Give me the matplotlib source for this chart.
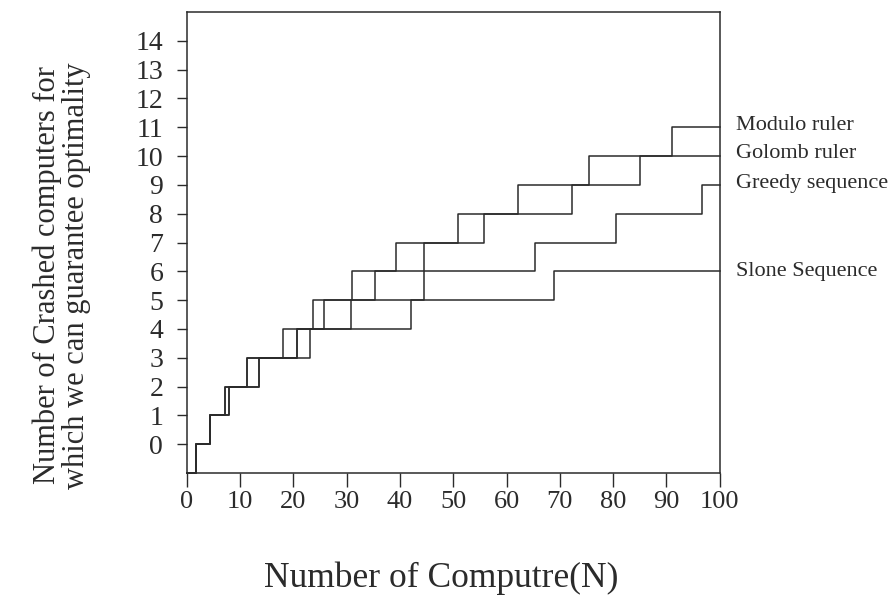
import matplotlib
matplotlib.use("Agg")
import numpy as np
import matplotlib.pyplot as plt

plt.rcParams['font.family'] = ['Liberation Serif', 'DejaVu Serif']

# step data: N where the count changes, and the count from that N on
modulo_x = [0, 1.8, 4.3, 7.1, 11.3, 18.1, 23.7, 31.0, 39.2, 50.9, 62.2, 75.5, 91.0, 100]
modulo_y = [-1, 0, 1, 2, 3, 4, 5, 6, 7, 8, 9, 10, 11, 11]
golomb_x = [0, 1.8, 4.3, 7.1, 11.3, 20.7, 25.7, 35.3, 44.5, 55.7, 72.3, 85.1, 100]
golomb_y = [-1, 0, 1, 2, 3, 4, 5, 6, 7, 8, 9, 10, 10]
greedy_x = [0, 1.8, 4.3, 7.95, 13.6, 20.7, 30.8, 44.5, 65.4, 80.6, 96.6, 100]
greedy_y = [-1, 0, 1, 2, 3, 4, 5, 6, 7, 8, 9, 9]
slone_x = [0, 1.8, 4.3, 7.95, 13.6, 23.1, 42.0, 69.0, 100]
slone_y = [-1, 0, 1, 2, 3, 4, 5, 6, 6]

series_names = ["Modulo ruler", "Golomb ruler", "Greedy sequence", "Slone Sequence"]
label_y = [11.05, 10.1, 9.05, 6.0]

x_ticks = np.arange(0, 101, 10)
y_ticks = np.arange(0, 15)

fig = plt.figure(figsize=(8.94, 6.01), dpi=100)
ax = fig.add_axes([0.209, 0.213, 0.596, 0.767])

col = "#2b2b2b"
for xs, ys in [(modulo_x, modulo_y), (golomb_x, golomb_y), (greedy_x, greedy_y), (slone_x, slone_y)]:
    ax.plot(xs, ys, drawstyle="steps-post", color=col, lw=1.1, clip_on=False)

ax.set_xlim(0, 100)
ax.set_ylim(-1, 15)
ax.set_xticks(x_ticks)
ax.set_yticks(y_ticks)
ax.tick_params(axis="y", direction="out", length=7, width=1, pad=10, labelsize=20, colors=col)
ax.tick_params(axis="x", direction="out", length=10, width=1, pad=3, labelsize=19, colors=col)
for s in ax.spines.values():
    s.set_linewidth(1.1)
    s.set_color(col)

for name, yy in zip(series_names, label_y):
    ax.text(103, yy, name, fontsize=16, va="center", ha="left", color=col, clip_on=False)

fig.text(0.069, 0.542, "Number of Crashed computers for\nwhich we can guarantee optimality",
         rotation=90, ha="center", va="center", multialignment="center", fontsize=22, color=col,
         linespacing=1.0)
fig.text(0.493, 0.038, "Number of Computre(N)", ha="center", va="center", fontsize=25.5, color=col)

fig.savefig("out.png", dpi=100)
